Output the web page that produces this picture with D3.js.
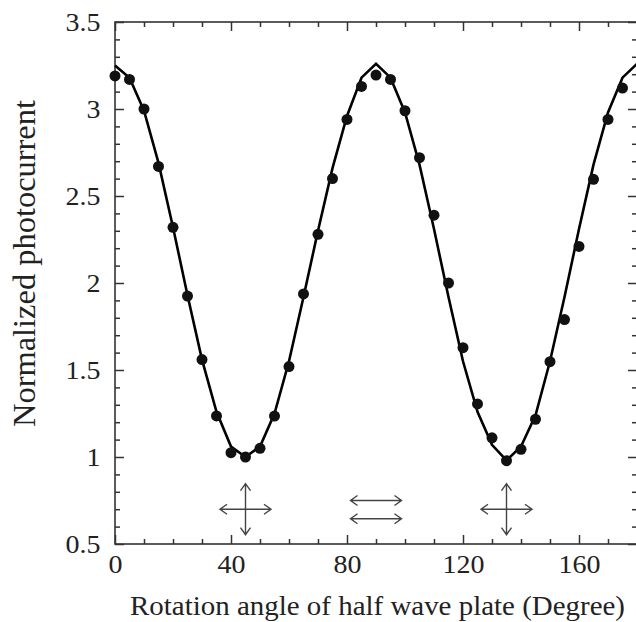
<!DOCTYPE html>
<html>
<head>
<meta charset="utf-8">
<script src="https://cdn.jsdelivr.net/npm/d3@7"></script>
<style>
  html, body { margin: 0; padding: 0; background: #fff; }
  svg { display: block; }
  svg text { font-family: "Liberation Serif", "Times New Roman", serif !important; fill: #222; }
</style>
</head>
<body>
<div id="graph"></div>
<script>
// measured photocurrent, every 5 degrees
var angles = [0, 5, 10, 15, 20, 25, 30, 35, 40, 45, 50, 55, 60, 65, 70, 75, 80, 85,
              90, 95, 100, 105, 110, 115, 120, 125, 130, 135, 140, 145, 150, 155, 160, 165, 170, 175];
var measured = [3.19, 3.17, 3.00, 2.67, 2.32, 1.925, 1.56, 1.236, 1.025, 1.0, 1.05, 1.235,
                1.52, 1.937, 2.28, 2.60, 2.94, 3.13, 3.195, 3.17, 2.99, 2.72, 2.39, 2.00,
                1.628, 1.305, 1.11, 0.979, 1.044, 1.217, 1.548, 1.79, 2.21, 2.596, 2.94, 3.12];

// fitted curve
var fitAngles = [0, 5, 10, 15, 20, 25, 30, 35, 40, 45, 50, 55, 60, 65, 70, 75, 80, 85,
                 90, 95, 100, 105, 110, 115, 120, 125, 130, 135, 140, 145, 150, 155, 160, 165, 170, 175, 180];
var fitted = [3.25, 3.18, 2.99, 2.69, 2.32, 1.93, 1.56, 1.26, 1.06, 1.0, 1.06, 1.25,
              1.55, 1.92, 2.30, 2.66, 2.96, 3.18, 3.26, 3.18, 2.98, 2.68, 2.31, 1.92,
              1.55, 1.26, 1.07, 0.98, 1.06, 1.24, 1.55, 1.92, 2.31, 2.68, 2.98, 3.18, 3.26];

var xMajor = [0, 40, 80, 120, 160];
var yMajor = [0.5, 1, 1.5, 2, 2.5, 3, 3.5];
var yLabels = ["0.5", "1", "1.5", "2", "2.5", "3", "3.5"];

// polarization symbols (data coords)
var crosses = [[45, 0.7], [135, 0.7]];
var parallels = [[90, 0.75], [90, 0.645]];

var serif = '"Liberation Serif", "Times New Roman", serif';

var margin = {top: 22, right: -1, bottom: 78, left: 115};
var W = 636, H = 622;
var width = W - margin.left - margin.right,
    height = H - margin.top - margin.bottom;

var svg = d3.select("#graph").append("svg")
    .attr("width", W)
    .attr("height", H),
    g = svg.append("g").attr("transform", "translate(" + margin.left + "," + margin.top + ")");

var x = d3.scaleLinear().domain([0, 180]).range([0, width]);
var y = d3.scaleLinear().domain([0.5, 3.5]).range([height, 0]);

var xMinor = d3.range(0, 181, 10).filter(function(d) { return xMajor.indexOf(d) < 0; });
var yMinor = d3.range(5, 36, 1).map(function(d) { return d / 10; })
    .filter(function(d) { return yMajor.indexOf(d) < 0; });

function styleAxis(sel) {
    sel.attr("font-family", null).attr("font-size", null);
    sel.select(".domain").remove();
    sel.selectAll(".tick line").attr("stroke", "#333").attr("stroke-width", 1.5);
    sel.selectAll(".tick text")
        .style("font-family", serif)
        .style("font-size", "25px")
        .attr("transform", "scale(1.12,1)")
        .attr("fill", "#222");
}

// bottom
g.append("g").attr("transform", "translate(0," + height + ")")
    .call(d3.axisBottom(x).tickValues(xMinor).tickSize(-5).tickFormat(""))
    .call(styleAxis);
g.append("g").attr("transform", "translate(0," + height + ")")
    .call(d3.axisBottom(x).tickValues(xMajor).tickSize(-9).tickPadding(11).tickFormat(d3.format("d")))
    .call(styleAxis);

// top
g.append("g")
    .call(d3.axisTop(x).tickValues(xMinor).tickSize(-5).tickFormat(""))
    .call(styleAxis);
g.append("g")
    .call(d3.axisTop(x).tickValues(xMajor).tickSize(-9).tickFormat(""))
    .call(styleAxis);

// left
g.append("g")
    .call(d3.axisLeft(y).tickValues(yMinor).tickSize(-5).tickFormat(""))
    .call(styleAxis);
g.append("g")
    .call(d3.axisLeft(y).tickValues(yMajor).tickSize(-9).tickPadding(13)
        .tickFormat(function(d, i) { return yLabels[i]; }))
    .call(styleAxis);

// right
g.append("g").attr("transform", "translate(" + width + ",0)")
    .call(d3.axisRight(y).tickValues(yMinor).tickSize(-5).tickFormat(""))
    .call(styleAxis);
g.append("g").attr("transform", "translate(" + width + ",0)")
    .call(d3.axisRight(y).tickValues(yMajor).tickSize(-9).tickFormat(""))
    .call(styleAxis);

// frame
g.append("rect")
    .attr("width", width).attr("height", height)
    .attr("fill", "none").attr("stroke", "#333").attr("stroke-width", 1.6);

// fit line
var line = d3.line()
    .x(function(d, i) { return x(fitAngles[i]); })
    .y(function(d) { return y(d); });

g.append("path")
    .datum(fitted)
    .attr("fill", "none")
    .attr("stroke", "#000")
    .attr("stroke-width", 2.6)
    .attr("stroke-linejoin", "miter")
    .attr("d", line);

// points
g.selectAll("circle.pt")
    .data(measured)
    .enter().append("circle")
    .attr("class", "pt")
    .attr("cx", function(d, i) { return x(angles[i]); })
    .attr("cy", function(d) { return y(d); })
    .attr("r", 5.5)
    .attr("fill", "#111");

// double-headed arrows
var arm = 25.5, head = 7, hw = 5;
function arrow(x1, y1, x2, y2) {
    var dx = x2 - x1, dy = y2 - y1, L = Math.sqrt(dx * dx + dy * dy);
    var ux = dx / L, uy = dy / L, px = -uy, py = ux;
    var p = d3.path();
    p.moveTo(x1, y1); p.lineTo(x2, y2);
    p.moveTo(x1 + ux * head + px * hw, y1 + uy * head + py * hw);
    p.lineTo(x1, y1);
    p.lineTo(x1 + ux * head - px * hw, y1 + uy * head - py * hw);
    p.moveTo(x2 - ux * head + px * hw, y2 - uy * head + py * hw);
    p.lineTo(x2, y2);
    p.lineTo(x2 - ux * head - px * hw, y2 - uy * head - py * hw);
    g.append("path").attr("d", p.toString())
        .attr("fill", "none").attr("stroke", "#444").attr("stroke-width", 1.4);
}
crosses.forEach(function(c) {
    var cx = x(c[0]), cy = y(c[1]);
    arrow(cx - arm, cy, cx + arm, cy);
    arrow(cx, cy - arm, cx, cy + arm);
});
parallels.forEach(function(c) {
    var cx = x(c[0]), cy = y(c[1]);
    arrow(cx - arm, cy, cx + arm, cy);
});

// axis titles
svg.append("text")
    .attr("x", 130).attr("y", 615)
    .style("font-size", "28px")
    .attr("textLength", 495).attr("lengthAdjust", "spacingAndGlyphs")
    .text("Rotation angle of half wave plate (Degree)");

svg.append("text")
    .attr("transform", "translate(35,427) rotate(-90)")
    .style("font-size", "31px")
    .attr("textLength", 327).attr("lengthAdjust", "spacingAndGlyphs")
    .text("Normalized photocurrent");
</script>
</body>
</html>
